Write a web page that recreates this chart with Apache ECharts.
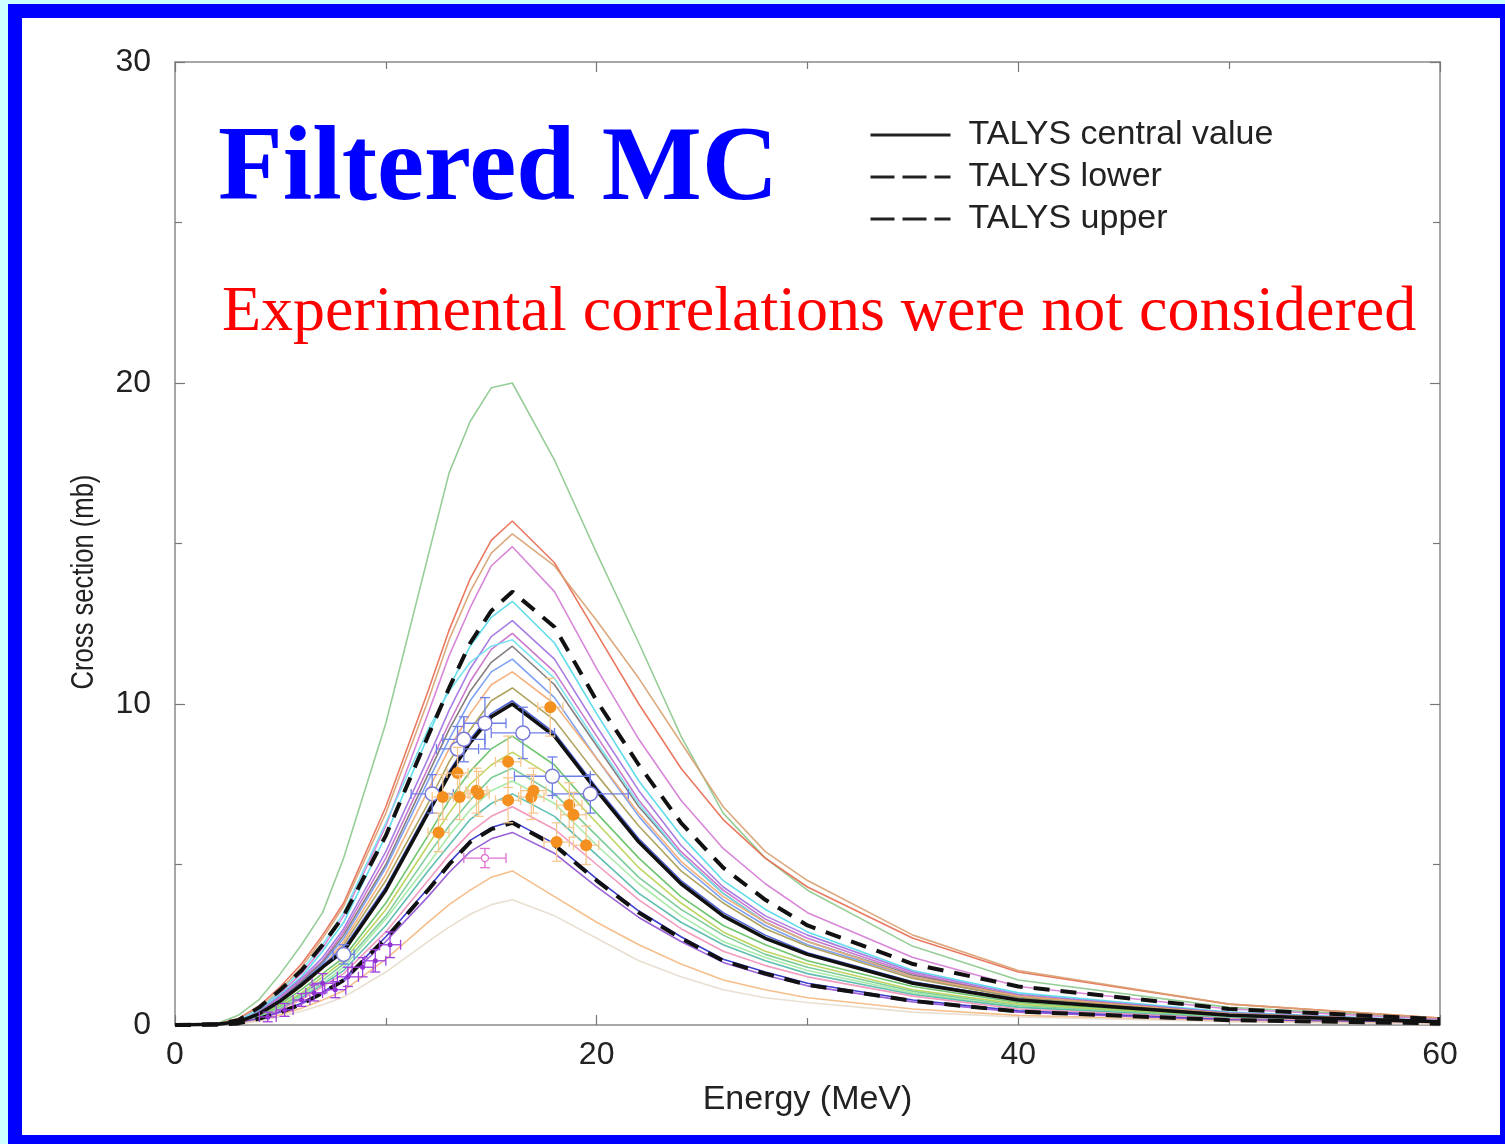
<!DOCTYPE html>
<html>
<head>
<meta charset="utf-8">
<script src="https://cdn.jsdelivr.net/npm/echarts@6/dist/echarts.min.js"></script>
<style>
html,body{margin:0;padding:0;width:1505px;height:1144px;overflow:hidden;background:#ccffff}
#frame{position:absolute;left:8px;top:4px;width:1478px;height:1117px;border:14px solid #0000ff;background:#fff}
#chart{position:absolute;left:0;top:0;width:1505px;height:1144px}
</style>
</head>
<body>
<div id="frame"></div>
<div id="chart"></div>
<script>
// ---------------- DATA ----------------
const energy = [0, 2, 3, 4, 5, 6, 7, 8, 10, 12, 13, 14, 15, 16, 18, 20, 22, 24, 26, 28, 30, 35, 40, 50, 60];

const talysCentral = [0, 0.02, 0.1, 0.35, 0.75, 1.25, 1.8, 2.3, 4.2, 6.6, 7.8, 8.8, 9.6, 10.0, 9.0, 7.3, 5.7, 4.4, 3.4, 2.7, 2.2, 1.3, 0.78, 0.3, 0.1];
const talysUpper   = [0, 0.03, 0.15, 0.55, 1.1, 1.7, 2.5, 3.4, 5.9, 9.0, 10.5, 11.9, 12.9, 13.5, 12.4, 10.1, 8.1, 6.3, 4.9, 3.9, 3.1, 1.9, 1.2, 0.5, 0.18];
const talysLower   = [0, 0.01, 0.05, 0.2, 0.4, 0.65, 1.0, 1.4, 2.7, 4.2, 5.0, 5.7, 6.1, 6.3, 5.6, 4.5, 3.5, 2.7, 2.0, 1.6, 1.25, 0.75, 0.42, 0.15, 0.05];

// filtered Monte-Carlo random files
const mcA = [0, 0.05, 0.3, 0.8, 1.6, 2.5, 3.5, 5.2, 9.4, 14.6, 17.2, 18.8, 19.85, 20.0, 17.6, 14.7, 11.9, 9.0, 6.6, 5.2, 4.2, 2.45, 1.4, 0.55, 0.2];
const mcB = [0, 0.03, 0.2, 0.6, 1.2, 1.9, 2.8, 3.8, 6.8, 10.4, 12.3, 13.9, 15.1, 15.7, 14.4, 12.2, 10.0, 8.0, 6.4, 5.2, 4.3, 2.7, 1.65, 0.65, 0.22];
const mcC = [0, 0.03, 0.18, 0.55, 1.1, 1.8, 2.7, 3.7, 6.6, 10.1, 12.0, 13.5, 14.7, 15.3, 14.3, 12.6, 10.8, 8.8, 6.8, 5.4, 4.5, 2.8, 1.7, 0.65, 0.22];
const mcD = [0, 0.02, 0.15, 0.5, 1.0, 1.6, 2.4, 3.4, 6.2, 9.7, 11.5, 13.0, 14.3, 14.9, 13.5, 11.1, 8.9, 7.0, 5.5, 4.4, 3.5, 2.1, 1.2, 0.5, 0.18];
const mcE = [0, 0.02, 0.12, 0.45, 0.95, 1.5, 2.3, 3.2, 5.9, 9.0, 10.5, 11.8, 12.7, 13.2, 11.9, 9.7, 7.6, 5.9, 4.5, 3.6, 2.9, 1.7, 1.0, 0.4, 0.13];
const mcF = [0, 0.02, 0.12, 0.42, 0.9, 1.45, 2.1, 3.0, 5.4, 8.3, 9.8, 11.1, 12.1, 12.6, 11.4, 9.3, 7.3, 5.6, 4.3, 3.4, 2.8, 1.65, 0.95, 0.38, 0.12];
const mcG = [0, 0.02, 0.11, 0.4, 0.85, 1.4, 2.0, 2.9, 5.2, 8.0, 9.4, 10.7, 11.7, 12.2, 11.0, 9.0, 7.0, 5.4, 4.2, 3.3, 2.7, 1.6, 0.9, 0.36, 0.12];
const mcH = [0, 0.02, 0.1, 0.4, 0.8, 1.35, 1.95, 2.8, 5.0, 7.8, 9.2, 10.4, 11.3, 11.8, 10.6, 8.7, 6.8, 5.3, 4.1, 3.2, 2.6, 1.55, 0.9, 0.35, 0.12];
const mcI = [0, 0.03, 0.14, 0.5, 1.05, 1.7, 2.5, 3.5, 6.3, 9.2, 10.4, 11.3, 11.8, 12.0, 10.8, 8.8, 6.9, 5.3, 4.1, 3.2, 2.6, 1.5, 0.85, 0.33, 0.11];
const mcJ = [0, 0.02, 0.1, 0.38, 0.8, 1.3, 1.9, 2.7, 4.9, 7.6, 8.9, 10.1, 11.0, 11.4, 10.2, 8.3, 6.5, 5.0, 3.9, 3.1, 2.5, 1.5, 0.85, 0.33, 0.11];
const mcK = [0, 0.02, 0.1, 0.36, 0.75, 1.25, 1.8, 2.6, 4.7, 7.3, 8.6, 9.7, 10.6, 11.0, 10.0, 8.3, 6.6, 5.1, 4.0, 3.2, 2.6, 1.5, 0.9, 0.35, 0.12];
const mcL = [0, 0.02, 0.1, 0.35, 0.72, 1.2, 1.75, 2.5, 4.5, 6.9, 8.2, 9.2, 10.1, 10.5, 9.5, 7.8, 6.2, 4.8, 3.8, 3.0, 2.45, 1.45, 0.85, 0.33, 0.11];
const mcM = [0, 0.02, 0.1, 0.36, 0.78, 1.3, 1.85, 2.4, 4.3, 6.7, 7.9, 8.9, 9.7, 10.1, 9.1, 7.4, 5.8, 4.5, 3.5, 2.8, 2.25, 1.35, 0.8, 0.32, 0.1];
const mcN = [0, 0.02, 0.09, 0.3, 0.65, 1.1, 1.6, 2.1, 3.8, 5.9, 7.0, 7.9, 8.6, 9.0, 8.1, 6.6, 5.2, 4.0, 3.1, 2.5, 2.0, 1.2, 0.7, 0.27, 0.09];
const mcO = [0, 0.02, 0.08, 0.28, 0.6, 1.0, 1.5, 2.0, 3.6, 5.6, 6.6, 7.5, 8.1, 8.5, 7.7, 6.3, 4.9, 3.8, 2.9, 2.3, 1.9, 1.1, 0.65, 0.25, 0.08];
const mcP = [0, 0.02, 0.08, 0.27, 0.57, 0.95, 1.4, 1.9, 3.4, 5.3, 6.2, 7.0, 7.7, 8.0, 7.2, 5.9, 4.6, 3.6, 2.8, 2.2, 1.8, 1.05, 0.6, 0.24, 0.08];
const mcQ = [0, 0.02, 0.07, 0.25, 0.53, 0.9, 1.3, 1.8, 3.3, 5.0, 5.9, 6.7, 7.3, 7.6, 6.9, 5.6, 4.4, 3.4, 2.6, 2.1, 1.7, 1.0, 0.57, 0.23, 0.08];
const mcR = [0, 0.02, 0.07, 0.24, 0.5, 0.85, 1.25, 1.7, 3.1, 4.8, 5.6, 6.4, 6.9, 7.2, 6.5, 5.3, 4.1, 3.2, 2.5, 2.0, 1.6, 0.95, 0.55, 0.22, 0.07];
const mcS = [0, 0.01, 0.06, 0.22, 0.48, 0.8, 1.2, 1.6, 2.9, 4.5, 5.3, 6.0, 6.5, 6.8, 6.1, 5.0, 3.9, 3.0, 2.3, 1.85, 1.5, 0.9, 0.5, 0.2, 0.07];
const mcT = [0, 0.01, 0.05, 0.2, 0.42, 0.68, 1.02, 1.42, 2.75, 4.25, 5.05, 5.75, 6.15, 6.35, 5.65, 4.55, 3.55, 2.75, 2.05, 1.65, 1.3, 0.78, 0.44, 0.16, 0.05];
const mcU = [0, 0.01, 0.05, 0.19, 0.4, 0.65, 0.98, 1.35, 2.6, 4.0, 4.75, 5.4, 5.8, 6.0, 5.35, 4.3, 3.35, 2.6, 1.95, 1.55, 1.22, 0.72, 0.4, 0.15, 0.05];
const mcV = [0, 0.01, 0.04, 0.15, 0.32, 0.52, 0.78, 1.07, 2.05, 3.2, 3.75, 4.2, 4.6, 4.8, 4.0, 3.2, 2.5, 1.9, 1.4, 1.1, 0.85, 0.5, 0.3, 0.12, 0.04];
const mcW = [0, 0.01, 0.03, 0.12, 0.26, 0.43, 0.63, 0.87, 1.65, 2.6, 3.05, 3.45, 3.75, 3.9, 3.4, 2.7, 2.0, 1.5, 1.1, 0.85, 0.7, 0.4, 0.25, 0.1, 0.03];

const mcCurves = [mcA, mcB, mcC, mcD, mcE, mcF, mcG, mcH, mcI, mcJ, mcK, mcL, mcM, mcN, mcO, mcP, mcQ, mcR, mcS, mcT, mcU, mcV, mcW];

// experimental data: energy, cross section, energy error, cross-section error
const expA_E  = [12.5, 12.7, 13.4, 13.5, 14.3, 14.4, 15.8, 15.8, 16.9, 17.0, 17.8, 18.1, 18.7, 18.9, 19.5];
const expA_V  = [6.0, 7.1, 7.85, 7.1, 7.3, 7.2, 8.2, 7.0, 7.1, 7.3, 9.9, 5.7, 6.85, 6.55, 5.6];
const expA_dE = [0.5, 0.5, 0.5, 0.5, 0.5, 0.5, 0.6, 0.6, 0.6, 0.6, 0.6, 0.6, 0.6, 0.6, 0.6];
const expA_dV = [0.6, 0.7, 0.8, 0.7, 0.7, 0.7, 0.8, 0.7, 0.7, 0.7, 0.9, 0.6, 0.7, 0.7, 0.6];

const expB_E  = [8.0, 12.2, 13.4, 13.7, 14.7, 16.5, 17.9, 19.7];
const expB_V  = [2.2, 7.2, 8.6, 8.9, 9.4, 9.1, 7.75, 7.2];
const expB_dE = [0.5, 1.0, 1.0, 1.0, 1.0, 1.5, 1.8, 1.8];
const expB_dV = [0.3, 0.6, 0.7, 0.7, 0.8, 0.8, 0.6, 0.6];

const expC_E  = [4.4, 5.2, 6.0, 6.6, 7.0, 7.6, 8.2, 8.9, 9.5, 10.2];
const expC_V  = [0.25, 0.47, 0.78, 1.0, 1.3, 1.1, 1.5, 1.8, 2.0, 2.5];
const expC_dE = [0.4, 0.4, 0.4, 0.4, 0.5, 0.5, 0.5, 0.5, 0.5, 0.5];
const expC_dV = [0.15, 0.2, 0.2, 0.25, 0.3, 0.25, 0.3, 0.3, 0.35, 0.4];

const expD_E  = [14.7];
const expD_V  = [5.2];
const expD_dE = [1.0];
const expD_dV = [0.3];

const legendNames = ['TALYS central value', 'TALYS lower', 'TALYS upper'];
const xTicks = {min: 0, max: 60, step: 20};
const yTicks = {min: 0, max: 30, step: 10};

// ---------------- STYLE ----------------
const mcColors = ['#8cc88c', '#e86a50', '#d8a070', '#d47ad4', '#50d8e8', '#a070e0', '#c46ac8', '#7a7070',
  '#70e0f0', '#7098f0', '#f4aa70', '#a89a50', '#3a50d0', '#60c060', '#b8d050', '#70c890', '#a0e8a0',
  '#50b8a8', '#f090b8', '#2a2ac8', '#9050d0', '#f4b880', '#e6dccc'];
const FONT = '"Liberation Sans", Arial, Helvetica, sans-serif';
const SERIF = '"Liberation Serif", "Times New Roman", serif';

const pairs = vals => energy.map((e, i) => [e, vals[i]]);
const pack = (E, V, dE, dV) => E.map((e, i) => [e, V[i], dE[i], dV[i]]);

function errorBars(barColor, marker) {
  return function (params, api) {
    const x = api.value(0), y = api.value(1), dx = api.value(2), dy = api.value(3);
    const c = api.coord([x, y]);
    const l = api.coord([x - dx, y]), r = api.coord([x + dx, y]);
    const t = api.coord([x, y + dy]), b = api.coord([x, y - dy]);
    const cap = 5;
    const ls = {stroke: barColor, lineWidth: 1.3};
    const seg = (x1, y1, x2, y2) => ({type: 'line', shape: {x1, y1, x2, y2}, style: ls});
    const children = [
      seg(l[0], l[1], r[0], r[1]),
      seg(t[0], t[1], b[0], b[1]),
      seg(t[0] - cap, t[1], t[0] + cap, t[1]),
      seg(b[0] - cap, b[1], b[0] + cap, b[1]),
      seg(l[0], l[1] - cap, l[0], l[1] + cap),
      seg(r[0], r[1] - cap, r[0], r[1] + cap)
    ];
    if (marker) {
      children.push({type: 'circle', shape: {cx: c[0], cy: c[1], r: marker.r},
        style: {fill: marker.fill, stroke: marker.stroke || null, lineWidth: marker.lw || 0}});
    }
    return {type: 'group', children};
  };
}

const series = [];
mcCurves.forEach((vals, i) => {
  series.push({
    type: 'line', data: pairs(vals), symbol: 'none', silent: true,
    lineStyle: {color: mcColors[i], width: 1.6, opacity: 0.9}, z: 2
  });
});
const blackItem = {color: '#111', opacity: 0};
series.push({
  name: legendNames[0], type: 'line', data: pairs(talysCentral), symbol: 'none', z: 3,
  lineStyle: {color: '#111', width: 3.5}, itemStyle: blackItem
});
series.push({
  name: legendNames[1], type: 'line', data: pairs(talysLower), symbol: 'none', z: 3,
  lineStyle: {color: '#111', width: 4, type: [16, 11]}, itemStyle: blackItem
});
series.push({
  name: legendNames[2], type: 'line', data: pairs(talysUpper), symbol: 'none', z: 3,
  lineStyle: {color: '#111', width: 4, type: [16, 11]}, itemStyle: blackItem
});
series.push({type: 'custom', z: 4, data: pack(expC_E, expC_V, expC_dE, expC_dV),
  renderItem: errorBars('#a040e0', {r: 2.5, fill: '#9030d0'})});
series.push({type: 'custom', z: 4, data: pack(expB_E, expB_V, expB_dE, expB_dV),
  renderItem: errorBars('#6f7fe8', {r: 7, fill: '#ffffff', stroke: '#7a7ad8', lw: 1.5})});
series.push({type: 'custom', z: 4, data: pack(expA_E, expA_V, expA_dE, expA_dV),
  renderItem: errorBars('#f6c890', {r: 6, fill: '#f39020'})});
series.push({type: 'custom', z: 4, data: pack(expD_E, expD_V, expD_dE, expD_dV),
  renderItem: errorBars('#e070d0', {r: 3.5, fill: '#ffffff', stroke: '#e070d0', lw: 1.2})});

const axisCommon = {
  type: 'value', splitLine: {show: false},
  axisLine: {show: true, onZero: false, lineStyle: {color: '#8a8a8a', width: 1.5}},
  axisTick: {show: true, inside: true, length: 10, lineStyle: {color: '#777', width: 1.2}},
  minorTick: {show: true, splitNumber: 2, length: 7, lineStyle: {color: '#777', width: 1.2}}
};

const option = {
  animation: false,
  backgroundColor: 'transparent',
  grid: {left: 175, top: 62, right: 65, bottom: 119, containLabel: false},
  legend: {
    data: [
      {name: legendNames[0], lineStyle: {color: '#222', width: 3, type: 'solid'}},
      {name: legendNames[1], lineStyle: {color: '#222', width: 3, type: [24, 8]}},
      {name: legendNames[2], lineStyle: {color: '#222', width: 3, type: [24, 8]}}
    ],
    orient: 'vertical', left: 864, top: 113,
    itemWidth: 80, itemHeight: 20, itemGap: 8, selectedMode: false,
    itemStyle: {opacity: 0},
    textStyle: {fontFamily: FONT, fontSize: 34, color: '#222', lineHeight: 34, padding: [0, 0, 0, 13]}
  },
  xAxis: [
    Object.assign({}, axisCommon, {
      position: 'bottom', min: xTicks.min, max: xTicks.max, interval: xTicks.step,
      axisLabel: {fontFamily: FONT, fontSize: 32, color: '#222', margin: 14},
      name: 'Energy (MeV)', nameLocation: 'middle', nameGap: 58,
      nameTextStyle: {fontFamily: FONT, fontSize: 34, color: '#222'}
    }),
    Object.assign({}, axisCommon, {
      position: 'top', min: xTicks.min, max: xTicks.max, interval: xTicks.step, axisLabel: {show: false}
    })
  ],
  yAxis: [
    Object.assign({}, axisCommon, {
      position: 'left', min: yTicks.min, max: yTicks.max, interval: yTicks.step,
      axisLabel: {fontFamily: FONT, fontSize: 32, color: '#222', margin: 24}
    }),
    Object.assign({}, axisCommon, {
      position: 'right', min: yTicks.min, max: yTicks.max, interval: yTicks.step, axisLabel: {show: false}
    })
  ],
  graphic: [
    {type: 'text', x: 84, y: 582, rotation: Math.PI / 2, scaleX: 0.8, z: 10,
      style: {text: 'Cross section (mb)', font: '32px ' + FONT, fill: '#222', align: 'center', verticalAlign: 'middle'}},
    {type: 'text', x: 218, y: 172, z: 10,
      style: {text: 'Filtered MC', font: 'bold 106px ' + SERIF, fill: '#0000ff', align: 'left', verticalAlign: 'middle'}},
    {type: 'text', x: 222, y: 313, z: 10,
      style: {text: 'Experimental correlations were not considered', font: '64px ' + SERIF, fill: '#ff0000', align: 'left', verticalAlign: 'middle'}}
  ],
  series: series
};

const chart = echarts.init(document.getElementById('chart'), null, {renderer: 'canvas'});
chart.setOption(option);
</script>
</body>
</html>
